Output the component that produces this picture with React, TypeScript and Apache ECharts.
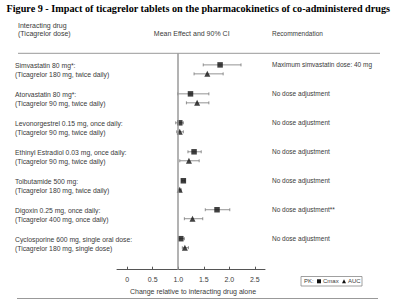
import React, { useEffect, useRef } from "react";
import * as echarts from "echarts";

// Interacting drugs (with ticagrelor regimen) and recommendations
const drugNames = [
  "Simvastatin 80 mg*:",
  "Atorvastatin 80 mg*:",
  "Levonorgestrel 0.15 mg, once daily:",
  "Ethinyl Estradiol 0.03 mg, once daily:",
  "Tolbutamide 500 mg:",
  "Digoxin 0.25 mg, once daily:",
  "Cyclosporine 600 mg, single oral dose:",
];
const ticagrelorDoses = [
  "(Ticagrelor 180 mg, twice daily)",
  "(Ticagrelor 90 mg, twice daily)",
  "(Ticagrelor 90 mg, twice daily)",
  "(Ticagrelor 90 mg, twice daily)",
  "(Ticagrelor 180 mg, twice daily)",
  "(Ticagrelor 400 mg, once daily)",
  "(Ticagrelor 180 mg, single dose)",
];
const recommendations = [
  "Maximum simvastatin dose: 40 mg",
  "No dose adjustment",
  "No dose adjustment",
  "No dose adjustment",
  "No dose adjustment",
  "No dose adjustment**",
  "No dose adjustment",
];

// Mean ratio and 90% CI, Cmax
const cmaxMean = [1.82, 1.24, 1.03, 1.31, 1.1, 1.76, 1.05];
const cmaxLow = [1.49, 0.99, 0.95, 1.19, 1.07, 1.53, 1.01];
const cmaxHigh = [2.23, 1.6, 1.1, 1.45, 1.13, 2.01, 1.12];

// Mean ratio and 90% CI, AUC
const aucMean = [1.57, 1.37, 1.03, 1.21, 1.03, 1.28, 1.13];
const aucLow = [1.31, 1.16, 0.97, 1.03, 1.0, 1.12, 1.08];
const aucHigh = [1.88, 1.6, 1.1, 1.41, 1.06, 1.48, 1.2];

const xTicks = [0, 0.5, 1.0, 1.5, 2.0, 2.5];

const AUC_OFFSET = 0.31;
const LABEL_OFFSET = 0.19;
const FONT = "'Liberation Sans', Arial, sans-serif";
const TEXT_COLOR = "#3a3a3a";

export default function App() {
  const ref = useRef<HTMLDivElement>(null);

  useEffect(() => {
    if (!ref.current) return;
    const chart = echarts.init(ref.current, undefined, { renderer: "svg" });

    const rows = drugNames.map((_, i) => i);
    const cmaxPoints = rows.map((i) => [cmaxMean[i], i]);
    const aucPoints = rows.map((i) => [aucMean[i], i + AUC_OFFSET]);
    const ciData = [
      ...rows.map((i) => [cmaxLow[i], cmaxHigh[i], i]),
      ...rows.map((i) => [aucLow[i], aucHigh[i], i + AUC_OFFSET]),
    ];

    const yBase = {
      type: "value" as const,
      inverse: true,
      min: -0.4,
      max: 7.07,
      axisLine: { show: false },
      axisTick: { show: false },
      splitLine: { show: false },
    };

    chart.setOption({
      animation: false,
      textStyle: { fontFamily: FONT },
      grid: { left: 117, right: 135, top: 53.3, bottom: 36.3 },
      xAxis: {
        type: "value",
        min: -0.2,
        max: 2.7,
        splitLine: { show: false },
        axisLine: { onZero: false, lineStyle: { color: "#555", width: 1 } },
        axisTick: {
          show: true,
          inside: true,
          length: 3,
          customValues: xTicks,
          lineStyle: { color: "#555" },
        },
        axisLabel: {
          customValues: xTicks,
          margin: 6.5,
          fontSize: 7,
          color: TEXT_COLOR,
          fontFamily: FONT,
          formatter: (v: number) => (v === 0 ? "0" : v.toFixed(1)),
        },
        name: "Change relative to interacting drug alone",
        nameLocation: "middle",
        nameGap: 15,
        nameTextStyle: { fontSize: 7, color: TEXT_COLOR, fontFamily: FONT, padding: [0, 0, 0, 4] },
      },
      yAxis: [
        {
          ...yBase,
          position: "left",
          axisLabel: {
            customValues: rows.map((i) => i + LABEL_OFFSET),
            align: "left",
            margin: 102,
            fontSize: 6.8,
            lineHeight: 9,
            color: TEXT_COLOR,
            fontFamily: FONT,
            formatter: (v: number) => {
              const i = Math.round(v - LABEL_OFFSET);
              return drugNames[i] + "\n" + ticagrelorDoses[i];
            },
          },
        },
        {
          ...yBase,
          position: "right",
          axisLabel: {
            customValues: rows,
            align: "left",
            margin: 7,
            fontSize: 6.5,
            color: TEXT_COLOR,
            fontFamily: FONT,
            formatter: (v: number) => recommendations[Math.round(v)],
          },
        },
      ],
      series: [
        {
          type: "custom",
          name: "90% CI",
          data: ciData,
          encode: { x: [0, 1], y: 2 },
          z: 1,
          renderItem: (_params: any, api: any) => {
            const lo = api.coord([api.value(0), api.value(2)]);
            const hi = api.coord([api.value(1), api.value(2)]);
            const style = { stroke: "#777", lineWidth: 0.8 };
            return {
              type: "group",
              children: [
                { type: "line", shape: { x1: lo[0], y1: lo[1], x2: hi[0], y2: hi[1] }, style },
                { type: "line", shape: { x1: lo[0], y1: lo[1] - 1.5, x2: lo[0], y2: lo[1] + 1.5 }, style },
                { type: "line", shape: { x1: hi[0], y1: hi[1] - 1.5, x2: hi[0], y2: hi[1] + 1.5 }, style },
              ],
            };
          },
        },
        {
          type: "scatter",
          name: "Cmax",
          data: cmaxPoints,
          symbol: "rect",
          symbolSize: 5.5,
          itemStyle: { color: "#111" },
          z: 3,
          markLine: {
            silent: true,
            symbol: "none",
            label: { show: false },
            lineStyle: { type: "solid", color: "#9a9a9a", width: 1.5 },
            data: [{ xAxis: 1 }],
          },
        },
        {
          type: "scatter",
          name: "AUC",
          data: aucPoints,
          symbol: "triangle",
          symbolSize: 6,
          itemStyle: { color: "#111" },
          z: 3,
        },
      ],
      graphic: [
        {
          type: "text",
          left: 6.5,
          top: 3,
          style: {
            text: "Figure 9 - Impact of ticagrelor tablets on the pharmacokinetics of co-administered drugs",
            font: "bold 10.2px 'Liberation Serif', 'Times New Roman', serif",
            fill: "#000",
          },
        },
        {
          type: "text",
          left: 18,
          top: 21.5,
          style: {
            text: "Interacting drug\n(Ticagrelor dose)",
            font: `7px ${FONT}`,
            lineHeight: 8,
            fill: TEXT_COLOR,
          },
        },
        {
          type: "text",
          x: 191.7,
          y: 33.3,
          style: {
            text: "Mean Effect and 90% CI",
            font: `7px ${FONT}`,
            fill: TEXT_COLOR,
            align: "center",
            verticalAlign: "middle",
          },
        },
        {
          type: "text",
          x: 272,
          y: 33.3,
          style: {
            text: "Recommendation",
            font: `6.5px ${FONT}`,
            fill: TEXT_COLOR,
            align: "left",
            verticalAlign: "middle",
          },
        },
        {
          type: "line",
          shape: { x1: 18, y1: 53.3, x2: 380, y2: 53.3 },
          style: { stroke: "#999", lineWidth: 1 },
        },
        {
          type: "line",
          shape: { x1: 17, y1: 298.5, x2: 378, y2: 298.5 },
          style: { stroke: "#999", lineWidth: 1 },
        },
        {
          type: "group",
          children: [
            {
              type: "rect",
              shape: { x: 301, y: 276.5, width: 61, height: 9.5 },
              style: { fill: "#fff", stroke: "#888", lineWidth: 0.8 },
            },
            {
              type: "text",
              x: 304,
              y: 281.3,
              style: { text: "PK:", font: `6px ${FONT}`, fill: TEXT_COLOR, verticalAlign: "middle" },
            },
            {
              type: "rect",
              shape: { x: 317, y: 279.3, width: 4, height: 4 },
              style: { fill: "#111" },
            },
            {
              type: "text",
              x: 323,
              y: 281.3,
              style: { text: "Cmax", font: `6px ${FONT}`, fill: TEXT_COLOR, verticalAlign: "middle" },
            },
            {
              type: "polygon",
              shape: { points: [[342, 283.3], [346, 283.3], [344, 279.3]] },
              style: { fill: "#111" },
            },
            {
              type: "text",
              x: 348,
              y: 281.3,
              style: { text: "AUC", font: `6px ${FONT}`, fill: TEXT_COLOR, verticalAlign: "middle" },
            },
          ],
        },
      ],
    });

    return () => chart.dispose();
  }, []);

  return <div ref={ref} style={{ width: 400, height: 306, position: "absolute", left: 0, top: 0, background: "#fff" }} />;
}
